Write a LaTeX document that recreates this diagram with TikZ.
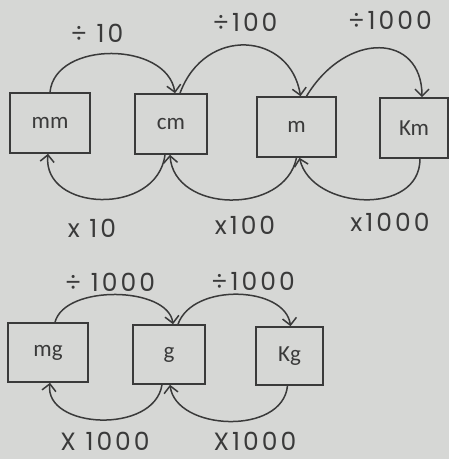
\documentclass[tikz,border=0pt]{standalone}
\usepackage{fontspec}
\setmainfont{Carlito}
\newfontfamily\handfont[LetterSpace=12]{Poppins}
\usetikzlibrary{arrows.meta}
\definecolor{paper}{HTML}{D6D7D5}
\definecolor{ink}{HTML}{3A3A3A}
\tikzset{
  unitbox/.style={draw=ink, line width=1.6pt, fill=paper, minimum height=60pt, inner sep=0pt, font=\fontsize{23}{23}\selectfont, text=ink},
  conv/.style={draw=ink, line width=1.5pt, -{Straight Barb[length=7pt,width=14pt,line width=1.5pt]}},
  convlabel/.style={text=ink, font=\handfont\fontsize{25}{25}\selectfont, inner sep=0pt}
}
\begin{document}
\begin{tikzpicture}[x=1pt,y=-1pt]
\fill[paper] (0,0) rectangle (449,459);
\useasboundingbox (0,0) rectangle (449,459);
% length
\node[unitbox, minimum width=80pt] (mm) at (50,123) {mm};
\node[unitbox, minimum width=72pt] (cm) at (171,124) {cm};
\node[unitbox, minimum width=79pt] (m) at (296.5,127) {m};
\node[unitbox, minimum width=68pt] (km) at (414,128) {Km};
\draw[conv] (mm.north) .. controls +(5,-52) and +(-8,-52) .. ([xshift=4pt]cm.north);
\draw[conv] ([xshift=9pt]cm.north) .. controls +(25,-68) and +(-10,-64) .. ([xshift=4pt]m.north);
\draw[conv] ([xshift=10pt]m.north) .. controls +(40,-66) and +(0,-64) .. ([xshift=8pt]km.north);
\draw[conv] ([xshift=-6pt]cm.south) .. controls +(-8,62) and +(-6,58) .. ([xshift=-2pt]mm.south);
\draw[conv] (m.south) .. controls +(-12,58) and +(4,58) .. ([xshift=-1pt]cm.south);
\draw[conv] ([xshift=6pt]km.south) .. controls +(0,58) and +(12,52) .. ([xshift=3pt]m.south);
\node[convlabel] (d10) at (97,33) {÷ 10};
\node[convlabel] (d100) at (245,22) {÷100};
\node[convlabel] (d1000) at (390,20) {÷1000};
\node[convlabel] (t10) at (92,228) {x 10};
\node[convlabel] (t100) at (245,225) {x100};
\node[convlabel] (t1000) at (390,222) {x1000};
% mass
\node[unitbox, minimum width=80pt, minimum height=59pt] (mg) at (48,352.5) {mg};
\node[unitbox, minimum width=72pt, minimum height=59pt] (g) at (169,354.5) {g};
\node[unitbox, minimum width=67pt, minimum height=58pt] (kg) at (289.5,356) {Kg};
\draw[conv] ([xshift=7pt]mg.north) .. controls +(10,-38) and +(-5,-38) .. ([xshift=4pt]g.north);
\draw[conv] ([xshift=9pt]g.north) .. controls +(15,-42) and +(-5,-40) .. ([xshift=1pt]kg.north);
\draw[conv] ([xshift=-7pt]g.south) .. controls +(-8,50) and +(-6,46) .. ([xshift=2pt]mg.south);
\draw[conv] ([xshift=-2pt]kg.south) .. controls +(-5,50) and +(6,46) .. ([xshift=1pt]g.south);
\node[convlabel] (d1000a) at (110,282) {÷ 1000};
\node[convlabel] (d1000b) at (253,281) {÷1000};
\node[convlabel] (t1000a) at (105,441) {X 1000};
\node[convlabel] (t1000b) at (255,441) {X1000};
\end{tikzpicture}
\end{document}
